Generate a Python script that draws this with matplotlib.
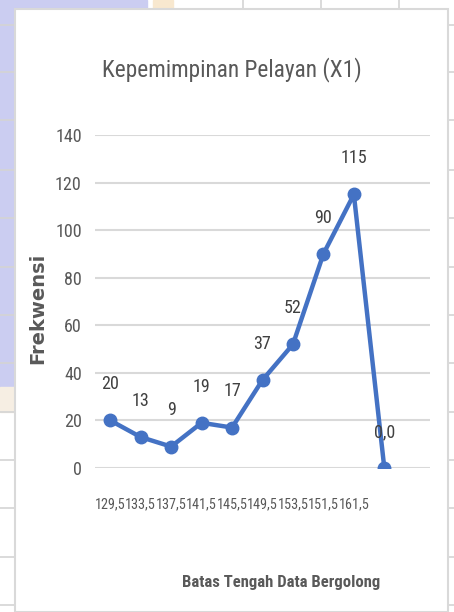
import matplotlib.pyplot as plt
from matplotlib.patches import Rectangle

W, H = 454, 612

categories = ["129,5", "133,5", "137,5", "141,5", "145,5", "149,5", "153,5", "151,5", "161,5", "", ""]
frekwensi = [20, 13, 9, 19, 17, 37, 52, 90, 115, 0]
point_labels = ["20", "13", "9", "19", "17", "37", "52", "90", "115", "0,0"]
y_ticks = [0, 20, 40, 60, 80, 100, 120, 140]

title = "Kepemimpinan Pelayan (X1)"
x_title = "Batas Tengah Data Bergolong"
y_title = "Frekwensi"

NARROW = ["Roboto Condensed", "Roboto", "DejaVu Sans"]
TEXT = "#595959"
BLUE = "#4472C4"
GRID = "#D9D9D9"


def fx(px):
    return px / W


def fy(py):
    return 1 - py / H


def background(fig):
    # spreadsheet behind the chart
    fig.add_artist(Rectangle((0, fy(387)), fx(15), 387 / H, transform=fig.transFigure,
                             color="#CBCDF1", zorder=0))
    fig.add_artist(Rectangle((0, fy(9)), fx(147), 9 / H, transform=fig.transFigure,
                             color="#CBCDF1", zorder=0))
    fig.add_artist(Rectangle((fx(153), fy(9)), fx(20), 9 / H, transform=fig.transFigure,
                             color="#F8E8CF", zorder=0))
    fig.add_artist(Rectangle((0, fy(412)), fx(15), 25 / H, transform=fig.transFigure,
                             color="#F6EEE3", zorder=0))
    for y in [25, 72, 120, 170, 218, 267, 315, 363, 412, 460, 508, 557, 605]:
        for x0, x1 in [(0, 15), (448, 454)]:
            fig.add_artist(plt.Line2D([fx(x0), fx(x1)], [fy(y), fy(y)], transform=fig.transFigure,
                                      color="#D4D4D4", lw=1.2, zorder=1))
    for x in [243, 321, 399]:
        fig.add_artist(plt.Line2D([fx(x), fx(x)], [fy(0), fy(9)], transform=fig.transFigure,
                                  color="#D4D4D4", lw=1.2, zorder=1))
    # chart area
    fig.add_artist(Rectangle((fx(15), 0), fx(433), fy(9), transform=fig.transFigure,
                             facecolor="white", edgecolor=GRID, lw=1.5, zorder=2))


def main():
    fig = plt.figure(figsize=(W / 100, H / 100), dpi=100)
    fig.patch.set_facecolor("white")
    background(fig)

    ax = fig.add_axes([fx(95), fy(468), fx(335), (468 - 135) / H], zorder=3)
    ax.patch.set_alpha(0)
    ax.plot(range(len(frekwensi)), frekwensi, color=BLUE, lw=3.2, marker="o", ms=9,
            solid_capstyle="round", zorder=3)
    for i, (v, t) in enumerate(zip(frekwensi, point_labels)):
        ax.annotate(t, (i, v), xytext=(0, 26), textcoords="offset points", ha="center",
                    va="center", fontsize=13, color="#404040", family=NARROW)

    ax.set_xlim(-0.5, len(categories) - 0.5)
    ax.set_ylim(0, 140)
    ax.set_yticks(y_ticks)
    ax.set_xticks(range(len(categories)))
    ax.set_xticklabels(categories)
    ax.yaxis.grid(True, color=GRID, lw=1.5)
    ax.set_axisbelow(True)
    for s in ax.spines.values():
        s.set_visible(False)
    ax.tick_params(length=0)
    ax.tick_params(axis="y", pad=9.5)
    ax.tick_params(axis="x", pad=21)
    for lab in ax.get_yticklabels():
        lab.set_family(NARROW)
        lab.set_fontsize(13)
        lab.set_color(TEXT)
    for lab in ax.get_xticklabels():
        lab.set_family(NARROW)
        lab.set_fontsize(10.3)
        lab.set_color(TEXT)

    fig.text(fx(232), fy(70), title, ha="center", va="center", fontsize=16.8,
             color=TEXT, family=NARROW, zorder=4)
    fig.text(fx(281), fy(582), x_title, ha="center", va="center", fontsize=12,
             fontweight="bold", color=TEXT, family=NARROW, zorder=4)
    fig.text(fx(38), fy(308), y_title, ha="center", va="center", rotation=90,
             fontsize=14, fontweight="bold", color=TEXT, family="DejaVu Sans", zorder=4)

    fig.savefig("out.png", dpi=100)


if __name__ == "__main__":
    main()
